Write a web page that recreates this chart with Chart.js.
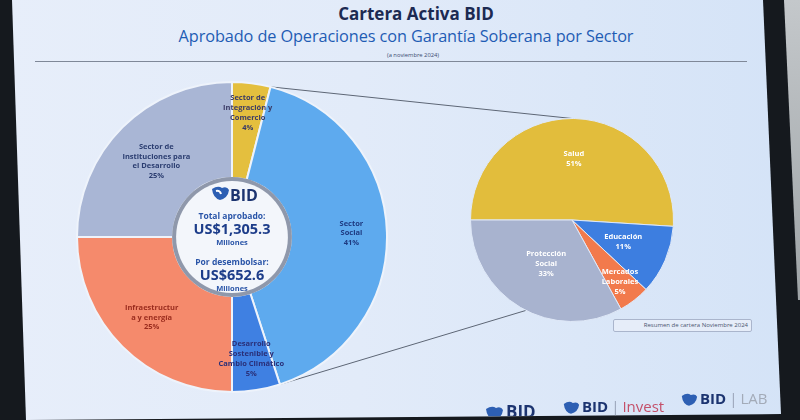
<!DOCTYPE html>
<html>
<head>
<meta charset="utf-8">
<script src="https://cdn.jsdelivr.net/npm/chart.js@4.4.1/dist/chart.umd.min.js"></script>
<style>
  html, body { margin: 0; padding: 0; }
  body { width: 800px; height: 420px; background: #15191e; position: relative; overflow: hidden; font-family: "Open Sans", "Noto Sans", sans-serif; }
  #wall { position: absolute; left: 781px; top: 0; width: 19px; height: 300px; background: linear-gradient(#c4c8cb, #9ea3a6); clip-path: polygon(3px 0, 19px 0, 19px 300px, 17px 300px); }
  #screen { position: absolute; left: 0; top: 0; width: 800px; height: 420px;
    background: linear-gradient(90deg, #e7eefa 0%, #e2ebf9 45%, #d4e3f7 100%);
    clip-path: polygon(12px 0, 763px 0, 781px 414px, 26px 420px); }
  .t1 { position: absolute; left: 0; width: 832px; top: 2px; text-align: center; font-weight: 700; font-size: 17px; color: #1c2a52; }
  .t2 { position: absolute; left: 0; width: 812px; top: 25px; text-align: center; font-size: 16.3px; color: #1f5cb4; letter-spacing: -0.1px; }
  .t3 { position: absolute; left: 0; width: 826px; top: 51px; text-align: center; font-size: 5.8px; color: #3b4a70; }
  #rule { position: absolute; left: 35px; top: 61px; width: 712px; height: 1px; background: #7f8898; }
  canvas { position: absolute; }
  #links { left: 0; top: 0; }
  #donutChart { left: 76px; top: 81px; }
  #pieChart { left: 470px; top: 118px; }
  #center { position: absolute; left: 172px; top: 184px; width: 120px; text-align: center; color: #1f3f8c; font-weight: 700; }
  #center .logo { font-size: 16px; color: #1c3470; height: 22px; line-height: 22px; margin-left: 4px; }
  #center .lbl { font-size: 8.5px; color: #2a55a8; margin-top: 4px; line-height: 11px; }
  #center .big { font-size: 14.5px; line-height: 16px; color: #1d3d8a; }
  #center .mil { font-size: 7.5px; line-height: 10px; color: #2a55a8; }
  .nota { position: absolute; left: 613px; top: 319px; width: 134px; height: 11px; border: 1px solid #aab5cc; border-radius: 2px; background: #e6edf9; font-size: 6px; line-height: 11px; text-align: right; padding-right: 3px; box-sizing: content-box; color: #4a5570; }
  .brand { position: absolute; font-weight: 700; color: #1c3470; white-space: nowrap; }
  .brand svg { vertical-align: -3px; margin-right: 2px; }
  .brand .sep { color: #9aa4b8; font-weight: 400; margin: 0 3px; }
</style>
</head>
<body>
<div id="wall"></div>
<div id="screen">
  <div class="t1">Cartera Activa BID</div>
  <div class="t2">Aprobado de Operaciones con Garantía Soberana por Sector</div>
  <div class="t3">(a noviembre 2024)</div>
  <div id="rule"></div>
  <canvas id="links" width="800" height="420"></canvas>
  <canvas id="donutChart" width="312" height="312"></canvas>
  <canvas id="pieChart" width="204" height="204"></canvas>
  <div id="center">
    <div class="logo"><svg width="20" height="16" viewBox="0 0 20 16"><path d="M2 4 Q8 0 12 3 Q17 1 19 5 Q18 13 10 15 Q3 13 2 4 Z" fill="#2d5fb3"/><path d="M6 6 Q10 5 11 9" stroke="#fff" stroke-width="2" fill="none"/></svg>BID</div>
    <div class="lbl">Total aprobado:</div>
    <div class="big">US$1,305.3</div>
    <div class="mil">Millones</div>
    <div class="lbl" style="margin-top:9px">Por desembolsar:</div>
    <div class="big">US$652.6</div>
    <div class="mil">Millones</div>
  </div>
  <div class="nota">Resumen de cartera Noviembre 2024</div>
  <div class="brand" style="left:484px; top:400px; font-size:17px;"><svg width="20" height="16" viewBox="0 0 20 16"><path d="M2 4 Q8 0 12 3 Q17 1 19 5 Q18 13 10 15 Q3 13 2 4 Z" fill="#2d5fb3"/></svg>BID</div>
  <div class="brand" style="left:562px; top:396px; font-size:15px;"><svg width="18" height="15" viewBox="0 0 20 16"><path d="M2 4 Q8 0 12 3 Q17 1 19 5 Q18 13 10 15 Q3 13 2 4 Z" fill="#2d5fb3"/></svg>BID<span class="sep">|</span><span style="color:#c4506a; font-weight:400">Invest</span></div>
  <div class="brand" style="left:680px; top:388px; font-size:15px;"><svg width="18" height="15" viewBox="0 0 20 16"><path d="M2 4 Q8 0 12 3 Q17 1 19 5 Q18 13 10 15 Q3 13 2 4 Z" fill="#2d5fb3"/></svg>BID<span class="sep">|</span><span style="color:#a3abb8; font-weight:400">LAB</span></div>
</div>

<script>
// --- Datos: sectores (dona) ---
const sectores = ["Sector de\nIntegración y\nComercio", "Sector\nSocial", "Desarrollo\nSostenible y\nCambio Climático", "Infraestructur\na y energía", "Sector de\nInstituciones para\nel Desarrollo"];
const sectorPct = [4, 41, 5, 25, 25];

// --- Datos: detalle Sector Social (pie) ---
const subsectores = ["Salud", "Educación", "Mercados\nLaborales", "Protección\nSocial"];
const subsectorPct = [51, 11, 5, 33];

// --- Estilos ---
const sectorColors = ["#e4bf3e", "#5eaaee", "#3f80e2", "#f58a6c", "#a9b6d5"];
const sectorText = ["#3a3a66", "#1e3a80", "#2a2f78", "#9a2c1e", "#2b3d70"];
const sectorLabelPos = [0.69, 0.63, 0.67, 0.57, 0.5];
const subColors = ["#e2bd3c", "#3d7ee0", "#f27a4c", "#a8b3cf"];
const subLabelPos = [0.6, 0.55, 0.77, 0.5];

// --- Plugin: etiquetas dentro de cada porción ---
const sliceLabels = {
  id: "sliceLabels",
  afterDatasetsDraw(chart, args, opts) {
    const ctx = chart.ctx;
    const meta = chart.getDatasetMeta(0);
    const names = chart.data.labels;
    const vals = chart.data.datasets[0].data;
    ctx.save();
    ctx.font = "bold " + opts.size + "px 'Open Sans', sans-serif";
    ctx.textAlign = "center";
    ctx.textBaseline = "middle";
    meta.data.forEach((arc, i) => {
      const p = arc.getProps(["x", "y", "startAngle", "endAngle", "innerRadius", "outerRadius"], true);
      const mid = (p.startAngle + p.endAngle) / 2;
      const r = p.innerRadius + (p.outerRadius - p.innerRadius) * opts.pos[i];
      const cx = p.x + Math.cos(mid) * r;
      const cy = p.y + Math.sin(mid) * r;
      const lines = names[i].split("\n").concat([vals[i] + "%"]);
      const lh = opts.size * 1.3;
      ctx.fillStyle = Array.isArray(opts.color) ? opts.color[i] : opts.color;
      lines.forEach((ln, k) => {
        ctx.fillText(ln, cx, cy + (k - (lines.length - 1) / 2) * lh);
      });
    });
    ctx.restore();
  }
};

// --- Plugin: círculo central blanco ---
const centerDisc = {
  id: "centerDisc",
  afterDatasetsDraw(chart) {
    const arc = chart.getDatasetMeta(0).data[0];
    const ctx = chart.ctx;
    ctx.save();
    ctx.beginPath();
    ctx.arc(arc.x, arc.y, arc.innerRadius + 1, 0, Math.PI * 2);
    ctx.fillStyle = "#8f98ab";
    ctx.fill();
    ctx.beginPath();
    ctx.arc(arc.x, arc.y, arc.innerRadius - 3, 0, Math.PI * 2);
    ctx.fillStyle = "#f3f6fb";
    ctx.fill();
    ctx.restore();
  }
};

const common = {
  responsive: false,
  animation: false,
  layout: { padding: 0 },
  plugins: { legend: { display: false }, tooltip: { enabled: false } }
};

const donut = new Chart(document.getElementById("donutChart"), {
  type: "doughnut",
  data: {
    labels: sectores,
    datasets: [{ data: sectorPct, backgroundColor: sectorColors, borderColor: "#eef3fb", borderWidth: 2 }]
  },
  options: {
    ...common,
    cutout: "38%",
    rotation: 0,
    plugins: { ...common.plugins, sliceLabels: { size: 7.5, color: sectorText, pos: sectorLabelPos } }
  },
  plugins: [centerDisc, sliceLabels]
});

const pie = new Chart(document.getElementById("pieChart"), {
  type: "pie",
  data: {
    labels: subsectores,
    datasets: [{ data: subsectorPct, backgroundColor: subColors, borderColor: "#dfe8f7", borderWidth: 1 }]
  },
  options: {
    ...common,
    rotation: -90,
    plugins: { ...common.plugins, sliceLabels: { size: 7.5, color: "#ffffff", pos: subLabelPos } }
  },
  plugins: [sliceLabels]
});

// --- Líneas que unen Sector Social con el detalle ---
function drawLinks() {
  const cv = document.getElementById("links");
  const ctx = cv.getContext("2d");
  const dBox = donut.canvas.getBoundingClientRect();
  const pBox = pie.canvas.getBoundingClientRect();
  const social = donut.getDatasetMeta(0).data[1];
  const pa = pie.getDatasetMeta(0).data[0];
  const dx = dBox.left + social.x, dy = dBox.top + social.y;
  const px = pBox.left + pa.x, py = pBox.top + pa.y;
  const R = social.outerRadius, PR = pa.outerRadius;
  const a1 = social.startAngle, a2 = social.endAngle;
  const b1 = -Math.PI / 2, b2 = Math.PI * 0.65;
  ctx.strokeStyle = "#5d6675";
  ctx.lineWidth = 1;
  ctx.beginPath();
  ctx.moveTo(dx + Math.cos(a1) * R, dy + Math.sin(a1) * R);
  ctx.lineTo(px + Math.cos(b1) * PR, py + Math.sin(b1) * PR);
  ctx.moveTo(dx + Math.cos(a2) * R, dy + Math.sin(a2) * R);
  ctx.lineTo(px + Math.cos(b2) * PR, py + Math.sin(b2) * PR);
  ctx.stroke();
}
drawLinks();
</script>
</body>
</html>
